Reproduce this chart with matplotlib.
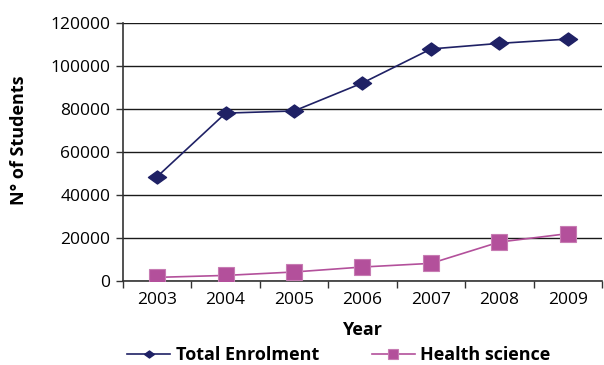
import matplotlib.pyplot as plt
from matplotlib.path import Path

# enrolment figures per year
years = ['2003', '2004', '2005', '2006', '2007', '2008', '2009']
total_enrolment = [48500, 78000, 79000, 92000, 107800, 110400, 112400]
health_science = [1700, 2600, 4200, 6500, 8200, 18100, 22000]

navy = '#1f2165'
pink = '#b3509b'

plt.rcParams['font.family'] = ['Open Sans', 'DejaVu Sans']

# a flattened diamond, wider than tall
diamond = Path([(-1, 0), (0, 0.72), (1, 0), (0, -0.72), (-1, 0)],
               [Path.MOVETO, Path.LINETO, Path.LINETO, Path.LINETO, Path.CLOSEPOLY])

fig = plt.figure(figsize=(6.04, 3.65), dpi=100)
ax = fig.add_axes([0.2036, 0.2301, 0.7931, 0.7077])

x = [i + 0.5 for i in range(len(years))]
ax.plot(x, total_enrolment, color=navy, lw=1.2, marker=diamond, ms=13,
        mfc=navy, mec=navy, label='Total Enrolment', zorder=3)
ax.plot(x, health_science, color=pink, lw=1.2, marker='s', ms=11,
        mfc=pink, mec='#c77cb3', mew=0.8, label='Health science', zorder=3)

ax.set_xlim(0, len(years))
ax.set_ylim(0, 120000)
ax.set_yticks(range(0, 120001, 20000))
ax.set_yticklabels([str(v) for v in range(0, 120001, 20000)])
ax.set_xticks(range(0, len(years) + 1))
ax.set_xticklabels([])
ax.set_xticks(x, minor=True)
ax.set_xticklabels(years, minor=True)
ax.tick_params(axis='x', which='minor', length=0, pad=8, labelsize=12.5)
ax.tick_params(axis='x', which='major', length=5, width=1, color='#333333')
ax.tick_params(axis='y', length=5, width=1, color='#333333', pad=4, labelsize=12.5)

ax.grid(axis='y', color='#1a1a1a', lw=1)
ax.set_axisbelow(True)
for side in ['top', 'right']:
    ax.spines[side].set_visible(False)
ax.spines['left'].set_color('#333333')
ax.spines['bottom'].set_color('#333333')
ax.spines['left'].set_linewidth(1.2)
ax.spines['bottom'].set_linewidth(1.2)

ax.set_ylabel('N° of Students', fontsize=13, fontweight='bold')
ax.yaxis.set_label_coords(-0.198, 0.545)
ax.set_xlabel('Year', fontsize=13, fontweight='bold', labelpad=9)

leg = fig.legend(loc='center', bbox_to_anchor=(0.561, 0.027), ncol=2,
                 frameon=False, prop={'weight': 'bold', 'size': 13},
                 handlelength=2.4, handletextpad=0.3, columnspacing=2.9,
                 borderpad=0)
leg.legend_handles[0].set_markersize(7)
leg.legend_handles[1].set_markersize(7.5)

fig.savefig('out.png', dpi=100)
